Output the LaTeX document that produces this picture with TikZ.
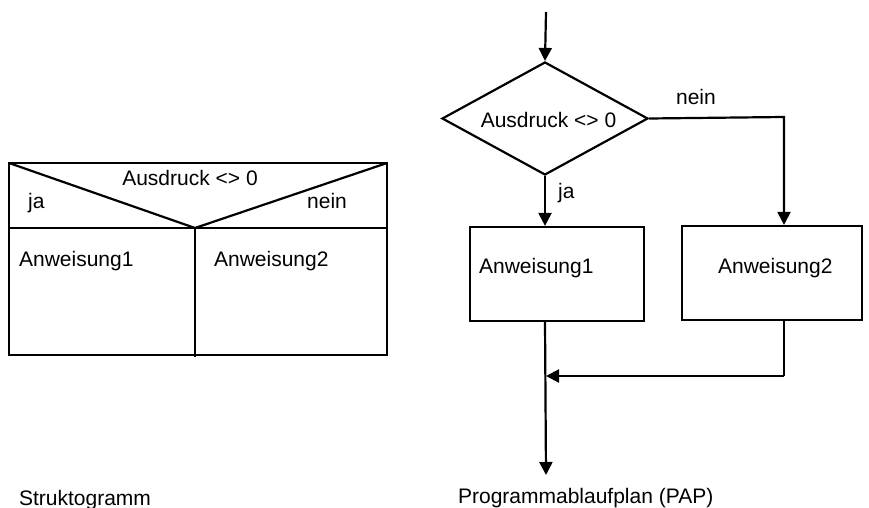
\documentclass[tikz,border=0pt]{standalone}
\usepackage{fontspec}
\setmainfont{Liberation Sans}
\usetikzlibrary{arrows.meta,shapes.geometric}
\begin{document}
\begin{tikzpicture}[x=1pt,y=-1pt,
  line width=2.2pt,
  txt/.style={inner sep=0pt,font=\fontsize{21}{25}\selectfont},
  flow/.style={-{Triangle[length=13pt,width=13pt]}},
  box/.style={draw,rectangle,inner sep=0pt,minimum width=174pt,minimum height=94pt},
  decision/.style={draw,diamond,inner sep=0pt,aspect=1.82,minimum width=206pt,minimum height=113pt}]
\useasboundingbox (0,0) rectangle (869,508);

% ---- Struktogramm ----
\draw (9,163) rectangle (387,355);
\draw (9,228) -- (387,228);
\draw (9,163) -- (195,228) -- (387,163);
\draw (195,228) -- (195,357);
\node[txt,anchor=base] (scond) at (190,185) {Ausdruck <> 0};
\node[txt,anchor=base west] (sja) at (27,208) {ja};
\node[txt,anchor=base east] (snein) at (348,208) {nein};
\node[txt,anchor=base west] (sa1) at (18,266) {Anweisung1};
\node[txt,anchor=base west] (sa2) at (213,266) {Anweisung2};
\node[txt,anchor=base west] (stitle) at (18,505) {Struktogramm};

% ---- Programmablaufplan ----
\coordinate (start) at (546,12);
\node[decision] (dia) at (545,118.5) {};
\node[txt,anchor=base] (dtext) at (548.5,128) {Ausdruck <> 0};
\node[box] (b1) at (557,274) {};
\node[box,minimum width=180pt] (b2) at (772,273) {};
\node[txt,anchor=base west] (t1) at (478,273) {Anweisung1};
\node[txt,anchor=base west] (t2) at (717,273) {Anweisung2};
\coordinate (nx) at (784,117);
\coordinate (merge) at (546,376);
\coordinate (stop) at (546,475);

\draw[flow] (start) -- (dia.north);
\draw[flow] (dia.south) -- node[txt,anchor=base west,pos=0.45,xshift=12pt] (pja) {ja} (b1.north -| dia.south);
\draw[flow] (dia.east) -- (nx) -- (b2.north -| nx);
\node[txt,anchor=base west] (pnein) at (675,105) {nein};
\draw (b2.south -| nx) -- (merge -| nx);
\draw[flow] (merge -| nx) -- (merge);
\draw[flow] (b1.south -| dia.south) -- (stop);
\node[txt,anchor=base west] (ptitle) at (457,503) {Programmablaufplan (PAP)};
\end{tikzpicture}
\end{document}
